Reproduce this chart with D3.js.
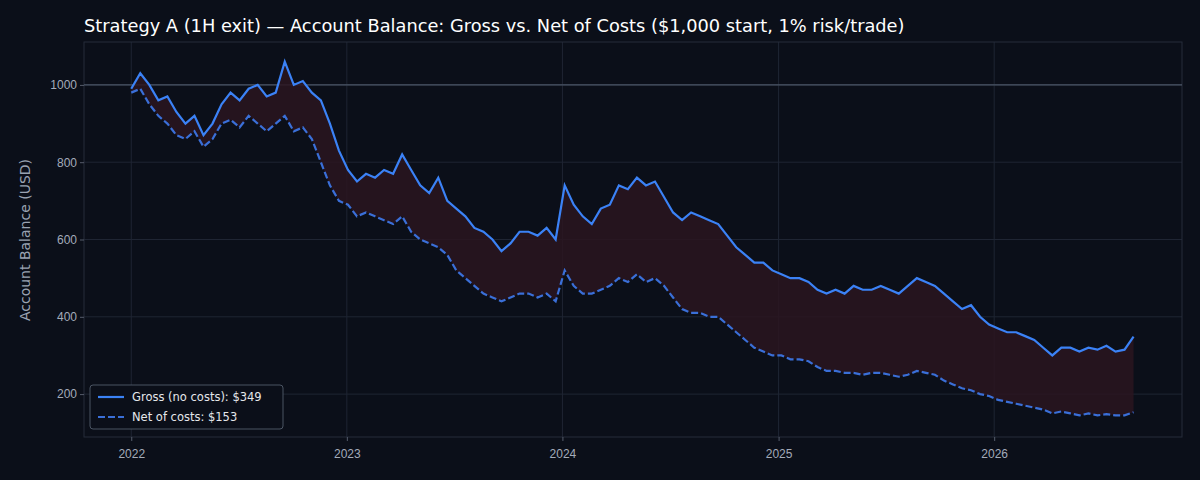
<!DOCTYPE html>
<html><head><meta charset="utf-8">
<script src="https://cdn.jsdelivr.net/npm/d3@7"></script>
<style>body{margin:0;background:#0b0f19;}svg{display:block;font-family:"DejaVu Sans",sans-serif;}</style>
</head><body><svg id="c" width="1200" height="480"></svg>
<script>
const startDate = "2022-01-01", endDate = "2026-08-25";
const yearTicks = [2022, 2023, 2024, 2025, 2026];
const yTicks = [200, 400, 600, 800, 1000];
const gross = [
 990,1030, 1000,960, 970,930, 900,920, 870,900, 950,980, 960,990, 1000,970, 980,1060, 1000,1010, 980,960, 900,830,
 780,750, 770,760, 780,770, 820,780, 740,720, 760,700, 680,660, 630,620, 600,570, 590,620, 620,610, 630,600,
 740,690, 660,640, 680,690, 740,730, 760,740, 750,710, 670,650, 670,660, 650,640, 610,580, 560,540, 540,520,
 510,500, 500,490, 470,460, 470,460, 480,470, 470,480, 470,460, 480,500, 490,480, 460,440, 420,430, 400,380,
 370,360, 360,350, 340,320, 300,320, 320,310, 320,315, 325,310, 315,349];
const net = [
 980,990, 950,920, 900,870, 860,880, 840,860, 900,910, 890,920, 900,880, 900,920, 880,890, 860,800, 740,700,
 690,660, 670,660, 650,640, 660,620, 600,590, 580,560, 520,500, 480,460, 450,440, 450,460, 460,450, 460,440,
 520,480, 460,460, 470,480, 500,490, 510,490, 500,480, 450,420, 410,410, 400,400, 380,360, 340,320, 310,300,
 300,290, 290,285, 270,260, 260,255, 255,250, 255,255, 250,245, 250,260, 255,250, 235,225, 215,210, 200,195,
 185,180, 175,170, 165,160, 150,155, 150,145, 150,145, 148,145, 145,153];

const svg = d3.select("#c");
const m = {l:84, r:1182, t:42, b:437};
const t0 = new Date(startDate), t1 = new Date(endDate);
const dates = gross.map((_, i) => new Date(+t0 + (t1 - t0) * i / (gross.length - 1)));
const x = d3.scaleTime().domain([new Date(2021, 9, 13), new Date(2026, 10, 15)]).range([m.l, m.r]);
const y = d3.scaleLinear().domain([89, 1111]).range([m.b, m.t]);
const grid = "#1f2533";
yTicks.forEach(v => svg.append("line").attr("x1", m.l).attr("x2", m.r).attr("y1", y(v)).attr("y2", y(v)).attr("stroke", grid));
yearTicks.forEach(v => { const d = new Date(v, 0, 1); svg.append("line").attr("x1", x(d)).attr("x2", x(d)).attr("y1", m.t).attr("y2", m.b).attr("stroke", grid); });
svg.append("rect").attr("x", m.l).attr("y", m.t).attr("width", m.r - m.l).attr("height", m.b - m.t).attr("fill", "none").attr("stroke", "#262c3a");
const xa = svg.append("g").attr("transform", `translate(0,${m.b})`).call(d3.axisBottom(x).tickValues(yearTicks.map(v => new Date(v, 0, 1))).tickFormat(d3.timeFormat("%Y")).tickSize(4));
const ya = svg.append("g").attr("transform", `translate(${m.l},0)`).call(d3.axisLeft(y).tickValues(yTicks).tickFormat(d3.format("d")).tickSize(4));
[xa, ya].forEach(a => { a.select(".domain").remove(); a.selectAll("line").attr("stroke", "#555c6b"); a.selectAll("text").attr("fill", "#a3abb9").attr("font-size", 12); });
xa.selectAll("text").attr("dy", "1.2em");
svg.append("line").attr("x1", m.l).attr("x2", m.r).attr("y1", y(1000)).attr("y2", y(1000)).attr("stroke", "#4b5666").attr("stroke-width", 1.3);
const idx = d3.range(gross.length);
svg.append("path").attr("d", d3.area().x(i => x(dates[i])).y0(i => y(net[i])).y1(i => y(gross[i]))(idx)).attr("fill", "#2a1520").attr("opacity", 0.85);
svg.append("path").attr("d", d3.line().x(i => x(dates[i])).y(i => y(net[i]))(idx)).attr("fill", "none").attr("stroke", "#3a6fd8").attr("stroke-width", 2.2).attr("stroke-dasharray", "7,3");
svg.append("path").attr("d", d3.line().x(i => x(dates[i])).y(i => y(gross[i]))(idx)).attr("fill", "none").attr("stroke", "#3b82f6").attr("stroke-width", 2.2);
svg.append("text").attr("x", 84).attr("y", 32).attr("fill", "#ffffff").attr("font-size", 17.8).text("Strategy A (1H exit) — Account Balance: Gross vs. Net of Costs ($1,000 start, 1% risk/trade)");
svg.append("text").attr("transform", "translate(30,240) rotate(-90)").attr("text-anchor", "middle").attr("fill", "#9aa3b2").attr("font-size", 14).text("Account Balance (USD)");
const lg = svg.append("g").attr("transform", "translate(90,385)");
lg.append("rect").attr("width", 193).attr("height", 44).attr("rx", 3).attr("fill", "#0b0f19").attr("stroke", "#4b5563");
lg.append("line").attr("x1", 8).attr("x2", 34).attr("y1", 12).attr("y2", 12).attr("stroke", "#3b82f6").attr("stroke-width", 2.2);
lg.append("line").attr("x1", 8).attr("x2", 34).attr("y1", 32).attr("y2", 32).attr("stroke", "#3a6fd8").attr("stroke-width", 2.2).attr("stroke-dasharray", "7,3");
lg.append("text").attr("x", 42).attr("y", 16).attr("fill", "#e5e7eb").attr("font-size", 11.5).text(`Gross (no costs): $${gross[gross.length-1]}`);
lg.append("text").attr("x", 42).attr("y", 36).attr("fill", "#e5e7eb").attr("font-size", 11.5).text(`Net of costs: $${net[net.length-1]}`);
</script></body></html>
